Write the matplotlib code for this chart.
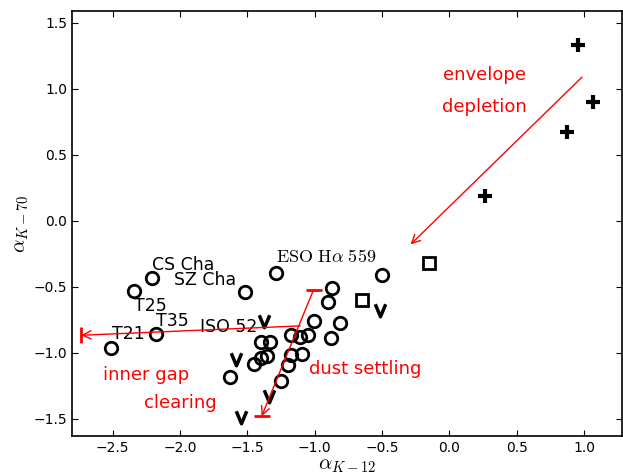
import numpy as np
import matplotlib
matplotlib.use("Agg")
import matplotlib.pyplot as plt
from matplotlib.path import Path

plt.rcParams['mathtext.fontset'] = 'cm'

# transitional disks (circles)
circ_x = [-2.511, -2.338, -2.207, -2.177, -1.516, -1.288, -1.632, -1.449, -1.400,
          -1.355, -1.397, -1.328, -1.248, -1.201, -1.174, -1.179, -1.107, -1.050,
          -1.095, -1.008, -0.869, -0.899, -0.815, -0.882, -0.498]
circ_y = [-0.962, -0.533, -0.434, -0.860, -0.538, -0.396, -1.185, -1.088, -1.043,
          -1.025, -0.916, -0.916, -1.215, -1.094, -1.020, -0.865, -0.880, -0.865,
          -1.012, -0.759, -0.508, -0.614, -0.772, -0.890, -0.411]

# class I / envelope objects (plus)
plus_x = [0.958, 1.067, 0.871, 0.262]
plus_y = [1.329, 0.898, 0.670, 0.187]

# squares
sq_x = [-0.646, -0.152]
sq_y = [-0.597, -0.323]

# upper limits (v)
lim_x = [-1.377, -1.582, -1.342, -1.550, -0.518]
lim_y = [-0.759, -1.050, -1.330, -1.487, -0.677]

# object labels
names = ['CS Cha', 'SZ Cha', 'T25', 'T35', 'T21', 'ISO 52', r'$\rm ESO\ H\alpha\ 559$']
name_x = [-2.207, -2.041, -2.345, -2.177, -2.504, -1.855, -1.285]
name_y = [-0.335, -0.447, -0.645, -0.759, -0.860, -0.804, -0.277]

# evolutionary arrows: (start, end)
env_arrow = [(0.985, 1.088), (-0.288, -0.180)]
gap_arrow = [(-1.107, -0.797), (-2.734, -0.868)]
dust_arrow = [(-1.008, -0.523), (-1.394, -1.482)]

fig = plt.figure(figsize=(6.23, 4.74), dpi=100)
ax = fig.add_axes([0.116, 0.080, 0.883, 0.897])

ax.plot(circ_x, circ_y, ls='none', marker='o', ms=9, mfc='none', mec='k', mew=2)
ax.plot(plus_x, plus_y, ls='none', marker='+', ms=10, mec='k', mew=3)
ax.plot(sq_x, sq_y, ls='none', marker='s', ms=9, mfc='none', mec='k', mew=2)
vpath = Path([(-0.5, 0.6), (0, -0.6), (0.5, 0.6)], [Path.MOVETO, Path.LINETO, Path.LINETO])
ax.plot(lim_x, lim_y, ls='none', marker=vpath, ms=9, mfc='none', mec='k', mew=2.5)

for n, x, y in zip(names, name_x, name_y):
    fs = 13 if n.startswith('$') else 12.5
    ax.text(x, y, n, fontsize=fs, ha='left', va='center')

for (s, e) in [env_arrow, gap_arrow, dust_arrow]:
    ax.annotate('', xy=e, xytext=s,
                arrowprops=dict(arrowstyle='->', color='red', lw=1,
                                shrinkA=0, shrinkB=0, mutation_scale=15))

# end bars
ax.plot([gap_arrow[1][0]], [gap_arrow[1][1]], ls='none', marker='|', ms=12, mew=2, color='red')
ax.plot([dust_arrow[0][0], dust_arrow[1][0]], [dust_arrow[0][1], dust_arrow[1][1]],
        ls='none', marker='_', ms=12, mew=2, color='red')

ax.text(0.262, 1.105, 'envelope', color='red', fontsize=13, ha='center', va='center')
ax.text(0.262, 0.862, 'depletion', color='red', fontsize=13, ha='center', va='center')
ax.text(-2.251, -1.170, 'inner gap', color='red', fontsize=13, ha='center', va='center')
ax.text(-1.996, -1.378, 'clearing', color='red', fontsize=13, ha='center', va='center')
ax.text(-0.624, -1.122, 'dust settling', color='red', fontsize=13, ha='center', va='center')

ax.set_xlim(-2.8, 1.285)
ax.set_ylim(-1.632, 1.59)
ax.set_xticks(np.arange(-2.5, 1.01, 0.5))
ax.set_yticks(np.arange(-1.5, 1.51, 0.5))
ax.tick_params(direction='in', top=True, right=True, length=4, labelsize=10)
for sp in ax.spines.values():
    sp.set_linewidth(1.2)

ax.set_xlabel(r'$\alpha_{K-12}$', fontsize=15, labelpad=0)
ax.set_ylabel(r'$\alpha_{K-70}$', fontsize=15, labelpad=2)

fig.savefig('out.png', dpi=100)
